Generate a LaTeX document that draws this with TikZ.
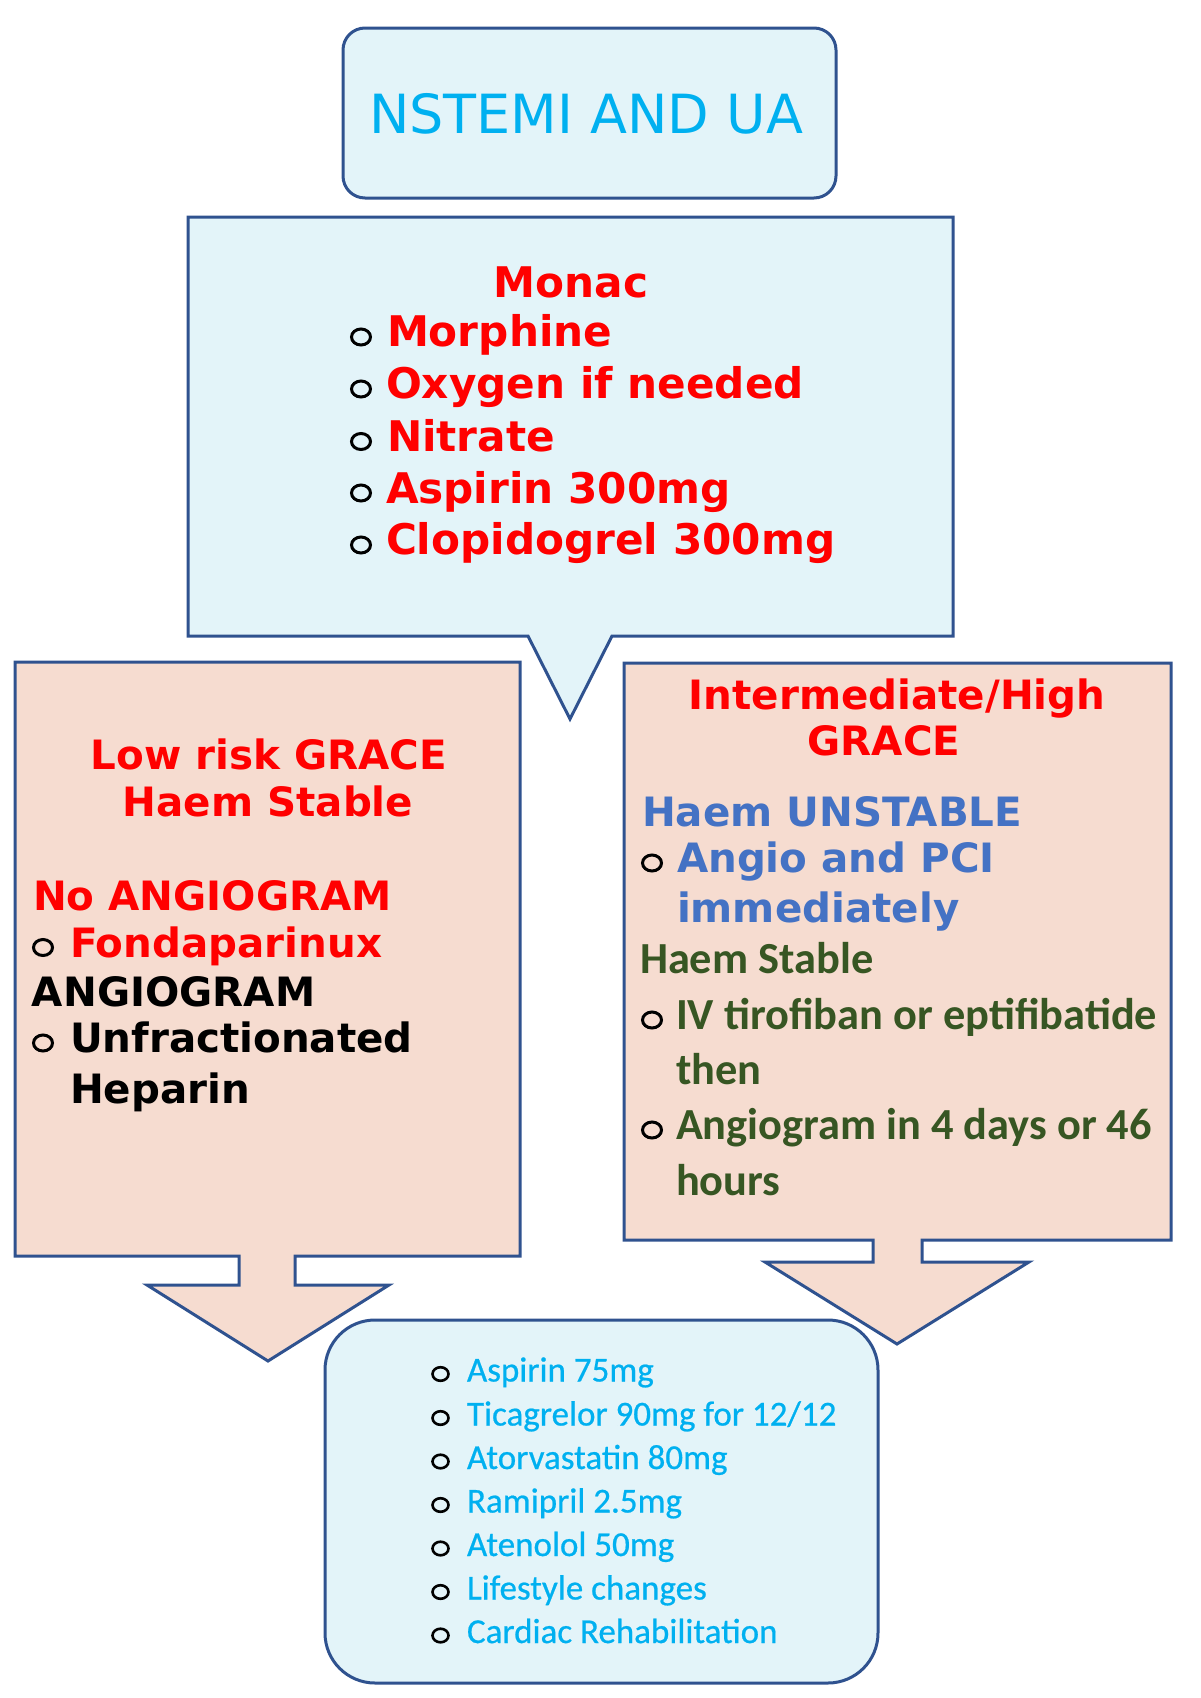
\documentclass[tikz,border=0pt]{standalone}
\usepackage{fontspec}
\setmainfont{DejaVu Sans}
\newfontfamily\dvs{DejaVu Sans}
\newfontfamily\carl{Carlito}
\newfontfamily\carlfb[FakeBold=0.6]{Carlito}
\definecolor{lblue}{HTML}{E3F4F9}
\definecolor{peach}{HTML}{F6DCD0}
\definecolor{edge}{HTML}{2F528F}
\definecolor{cyantxt}{HTML}{00B0F0}
\definecolor{redtxt}{HTML}{FF0000}
\definecolor{bluetxt}{HTML}{4472C4}
\definecolor{greentxt}{HTML}{375623}
\tikzset{
  boxline/.style={draw=edge, line width=1.5pt, line join=miter},
  bluebox/.style={boxline, fill=lblue},
  peachbox/.style={boxline, fill=peach},
  txt/.style={inner sep=0pt, outer sep=0pt},
  titlefont/.style={txt, font=\dvs\fontsize{27}{32}\selectfont, text=cyantxt},
  monacfont/.style={txt, font=\dvs\bfseries\fontsize{21.1}{25}\selectfont, text=redtxt},
  bigbold/.style={txt, font=\dvs\bfseries\fontsize{20.2}{24}\selectfont},
  greenfont/.style={txt, font=\carl\bfseries\fontsize{22.2}{26}\selectfont, text=greentxt},
  listfont/.style={txt, font=\carlfb\fontsize{17.5}{21}\selectfont, text=cyantxt},
  bul/.style={draw=black, line width=1.5pt, fill=none},
  smallbul/.style={draw=black, line width=1.3pt, fill=none}
}
\begin{document}
\begin{tikzpicture}[x=0.5pt,y=-0.5pt]
\useasboundingbox (0,0) rectangle (1200,1698);
% title box
\draw[bluebox, rounded corners=11pt] (343,28) rectangle (836,198);
\node[titlefont, anchor=base] (title) at (586,133) {NSTEMI AND UA};
% Monac callout
\draw[bluebox] (188,217) -- (953,217) -- (953,636) -- (612,636) -- (570,719) -- (528,636) -- (188,636) -- cycle;
\node[monacfont, anchor=base] (monac) at (571,297) {Monac};
\node[monacfont, anchor=base west] (m1) at (387,346) {Morphine};
\node[monacfont, anchor=base west] (m2) at (386,398) {Oxygen if needed};
\node[monacfont, anchor=base west] (m3) at (387,451) {Nitrate};
\node[monacfont, anchor=base west] (m4) at (386,503) {Aspirin 300mg};
\node[monacfont, anchor=base west] (m5) at (386,554) {Clopidogrel 300mg};
\foreach \yy in {337,389,441.5,493,545} \draw[bul] (361,\yy) ellipse [x radius=9.5, y radius=8];
% left box with down arrow
\draw[peachbox] (15,662) -- (520,662) -- (520,1256) -- (295,1256) -- (295,1285) -- (389,1285) -- (268,1361) -- (147,1285) -- (239,1285) -- (239,1256) -- (15,1256) -- cycle;
\node[bigbold, text=redtxt, anchor=base] (l1) at (269,769) {Low risk GRACE};
\node[bigbold, text=redtxt, anchor=base] (l2) at (268,816) {Haem Stable};
\node[bigbold, text=redtxt, anchor=base west] (l3) at (33,910) {No ANGIOGRAM};
\node[bigbold, text=redtxt, anchor=base west] (l4) at (70,957) {Fondaparinux};
\node[bigbold, text=black, anchor=base west] (l5) at (32,1006) {ANGIOGRAM};
\node[bigbold, text=black, anchor=base west] (l6) at (70,1052) {Unfractionated};
\node[bigbold, text=black, anchor=base west] (l7) at (70,1103) {Heparin};
\draw[bul] (43,947.5) ellipse [x radius=9.5, y radius=8];
\draw[bul] (43,1043) ellipse [x radius=9.5, y radius=8];
% right box with down arrow
\draw[peachbox] (624,663) -- (1171,663) -- (1171,1240) -- (922,1240) -- (922,1262) -- (1029,1262) -- (897,1344) -- (765,1262) -- (873,1262) -- (873,1240) -- (624,1240) -- cycle;
\node[bigbold, text=redtxt, anchor=base] (r1) at (897,709) {Intermediate/High};
\node[bigbold, text=redtxt, anchor=base] (r2) at (884,755) {GRACE};
\node[bigbold, text=bluetxt, anchor=base west] (r3) at (642,826) {Haem UNSTABLE};
\node[bigbold, text=bluetxt, anchor=base west] (r4) at (677,872) {Angio and PCI};
\node[bigbold, text=bluetxt, anchor=base west] (r5) at (677,922) {immediately};
\draw[bul] (652,863) ellipse [x radius=9.5, y radius=8];
\node[greenfont, anchor=base west] (r6) at (640,973) {Haem Stable};
\node[greenfont, anchor=base west] (r7) at (676,1029) {IV tirofiban or eptifibatide};
\node[greenfont, anchor=base west] (r8) at (676,1084) {then};
\node[greenfont, anchor=base west] (r9) at (676,1139) {Angiogram in 4 days or 46};
\node[greenfont, anchor=base west] (r10) at (676,1195) {hours};
\draw[bul] (652,1020) ellipse [x radius=9.5, y radius=8];
\draw[bul] (652,1130) ellipse [x radius=9.5, y radius=8];
% bottom box
\draw[bluebox, rounded corners=25pt] (325,1320) rectangle (878,1683);
\node[listfont, anchor=base west] (b1) at (467,1381.5) {Aspirin 75mg};
\node[listfont, anchor=base west] (b2) at (467,1425.5) {Ticagrelor 90mg for 12/12};
\node[listfont, anchor=base west] (b3) at (467,1469) {Atorvastatin 80mg};
\node[listfont, anchor=base west] (b4) at (467,1512.5) {Ramipril 2.5mg};
\node[listfont, anchor=base west] (b5) at (467,1556) {Atenolol 50mg};
\node[listfont, anchor=base west] (b6) at (467,1599.5) {Lifestyle changes};
\node[listfont, anchor=base west] (b7) at (467,1643) {Cardiac Rehabilitation};
\foreach \yy in {1374,1418,1461.5,1505,1548.5,1592,1635.5} \draw[smallbul] (440.5,\yy) ellipse [x radius=8, y radius=6.8];
\end{tikzpicture}
\end{document}
